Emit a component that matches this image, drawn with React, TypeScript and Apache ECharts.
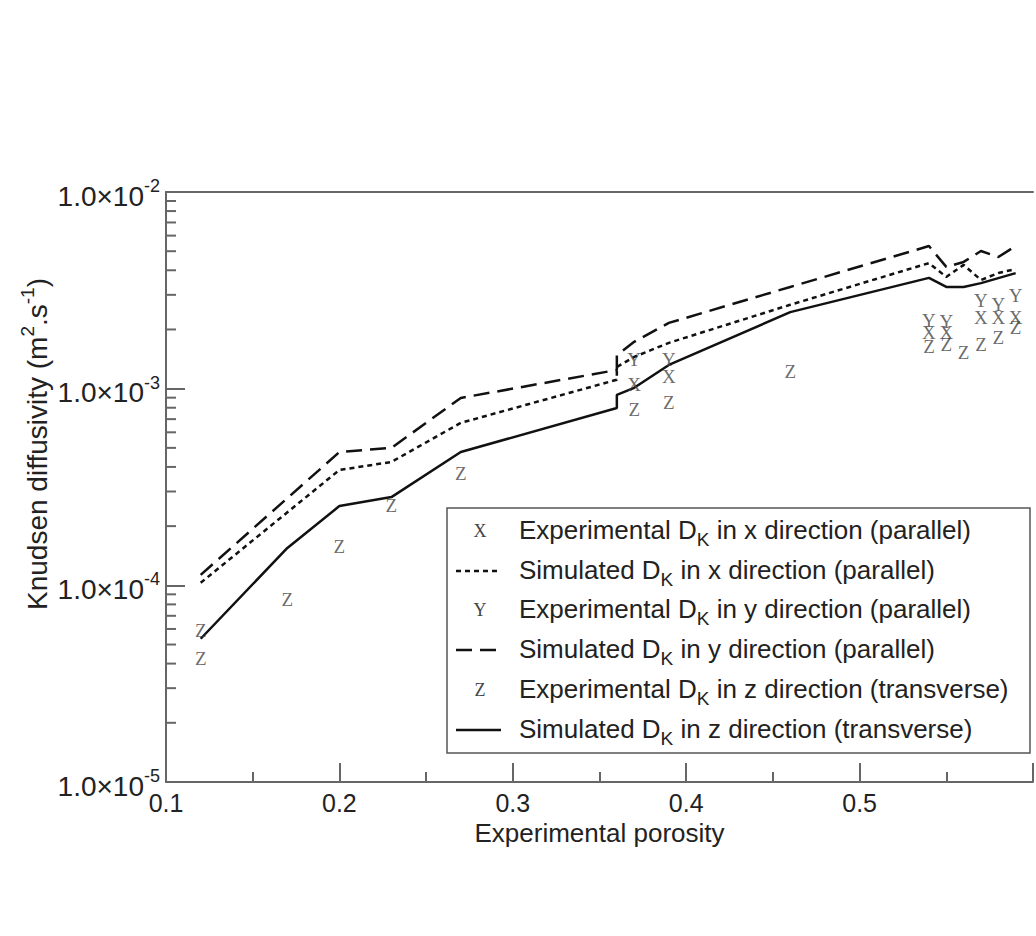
import React, { useEffect, useRef } from 'react';
import * as echarts from 'echarts';

// Simulated D_K, x direction (dotted)
const simXPorosity = [0.12, 0.2, 0.23, 0.27, 0.36, 0.36, 0.37, 0.39, 0.46, 0.54, 0.55, 0.56, 0.57, 0.58, 0.59];
const simXValues = [1.03e-4, 3.86e-4, 4.24e-4, 6.7e-4, 1.11e-3, 1.29e-3, 1.45e-3, 1.71e-3, 2.67e-3, 4.35e-3, 3.7e-3, 4.26e-3, 3.57e-3, 3.87e-3, 4.06e-3];
// Simulated D_K, y direction (dashed)
const simYPorosity = [0.12, 0.2, 0.23, 0.27, 0.36, 0.36, 0.37, 0.39, 0.46, 0.54, 0.55, 0.56, 0.57, 0.58, 0.59];
const simYValues = [1.13e-4, 4.76e-4, 5.0e-4, 8.97e-4, 1.245e-3, 1.48e-3, 1.73e-3, 2.16e-3, 3.29e-3, 5.31e-3, 4.16e-3, 4.41e-3, 5.01e-3, 4.67e-3, 5.31e-3];
// Simulated D_K, z direction (solid)
const simZPorosity = [0.12, 0.17, 0.2, 0.23, 0.27, 0.36, 0.36, 0.37, 0.39, 0.46, 0.54, 0.55, 0.56, 0.57, 0.59];
const simZValues = [5.35e-5, 1.55e-4, 2.53e-4, 2.81e-4, 4.76e-4, 7.98e-4, 9.29e-4, 1.01e-3, 1.32e-3, 2.45e-3, 3.66e-3, 3.29e-3, 3.29e-3, 3.44e-3, 3.87e-3];

// Experimental points
const expXPorosity = [0.37, 0.39, 0.54, 0.55, 0.57, 0.58, 0.59];
const expXValues = [1.045e-3, 1.15e-3, 1.92e-3, 1.94e-3, 2.29e-3, 2.31e-3, 2.29e-3];
const expYPorosity = [0.37, 0.39, 0.54, 0.55, 0.57, 0.58, 0.59];
const expYValues = [1.4e-3, 1.4e-3, 2.23e-3, 2.2e-3, 2.82e-3, 2.67e-3, 2.99e-3];
const expZPorosity = [0.12, 0.12, 0.17, 0.2, 0.23, 0.27, 0.37, 0.39, 0.46, 0.54, 0.55, 0.56, 0.57, 0.58, 0.59];
const expZValues = [5.86e-5, 4.27e-5, 8.43e-5, 1.57e-4, 2.54e-4, 3.72e-4, 7.8e-4, 8.55e-4, 1.22e-3, 1.63e-3, 1.67e-3, 1.52e-3, 1.67e-3, 1.81e-3, 2.04e-3];

// Axis ticks
const xTickLabels = ['0.1', '0.2', '0.3', '0.4', '0.5'];
const yDecades = [1e-5, 1e-4, 1e-3];
const yMinorMultipliers = [2, 3, 4, 5, 6, 7, 8, 9];

const legendLabels = [
  ['Experimental D', ' in x direction (parallel)'],
  ['Simulated D', ' in x direction (parallel)'],
  ['Experimental D', ' in y direction (parallel)'],
  ['Simulated D', ' in y direction (parallel)'],
  ['Experimental D', ' in z direction (transverse)'],
  ['Simulated D', ' in z direction (transverse)'],
];

const SANS = 'Liberation Sans, Arial, sans-serif';
const SERIF = 'Liberation Serif, Times New Roman, serif';
const AXIS = '#666';
const MARK = '#444';
const TEXT = '#222';

const zip = (a: number[], b: number[]) => a.map((v, i) => [v, b[i]]);

export default function App() {
  const ref = useRef<HTMLDivElement>(null);
  useEffect(() => {
    const chart = echarts.init(ref.current!, null, { renderer: 'svg' });
    const minorTicks = yDecades.flatMap((d) => yMinorMultipliers.map((m) => [0.1, m * d]));

    const letterSeries = (name: string, letter: string, data: number[][]) => ({
      type: 'scatter',
      name,
      data,
      symbol: 'circle',
      symbolSize: 1,
      itemStyle: { color: 'rgba(0,0,0,0)' },
      label: {
        show: true,
        position: 'inside',
        formatter: letter,
        fontFamily: SERIF,
        fontSize: 19,
        color: MARK,
      },
      labelLayout: { hideOverlap: false },
      z: 4,
    });

    const lineSeries = (name: string, data: number[][], dash: any) => ({
      type: 'line',
      name,
      data,
      symbol: 'none',
      lineStyle: { color: '#111', width: 2.5, type: dash },
      z: 3,
    });

    const rowY = [531, 571, 610, 650, 690, 730];
    const legendGraphics: any[] = [
      {
        type: 'rect',
        shape: { x: 447, y: 508, width: 583, height: 245 },
        style: { fill: '#fff', stroke: '#555', lineWidth: 1.5 },
        z: 100,
      },
    ];
    const letters = ['X', '', 'Y', '', 'Z', ''];
    const dashes: any[] = [null, [5, 4], null, [16, 8], null, null];
    rowY.forEach((y, i) => {
      if (letters[i]) {
        legendGraphics.push({
          type: 'text',
          x: 480,
          y,
          style: { text: letters[i], font: `18px ${SERIF}`, fill: MARK, align: 'center', verticalAlign: 'middle' },
          z: 101,
        });
      } else {
        legendGraphics.push({
          type: 'line',
          shape: { x1: 456, y1: y, x2: 501, y2: y },
          style: { stroke: '#111', lineWidth: 2.5, lineDash: dashes[i] || undefined },
          z: 101,
        });
      }
      legendGraphics.push({
        type: 'text',
        x: 519,
        y,
        style: {
          text: `{a|${legendLabels[i][0]}}{k|K}{a|${legendLabels[i][1]}}`,
          rich: {
            a: { fontSize: 26, fontFamily: SANS, lineHeight: 28, verticalAlign: 'top', fill: TEXT },
            k: { fontSize: 19, fontFamily: SANS, lineHeight: 19, padding: [13, 0, 0, 0], verticalAlign: 'top', fill: TEXT },
          },
          align: 'left',
          verticalAlign: 'middle',
        },
        z: 101,
      });
    });

    const option: any = {
      animation: false,
      backgroundColor: '#fff',
      grid: { left: 166, top: 192, width: 870, height: 590, containLabel: false },
      xAxis: [
        {
          type: 'value',
          min: 0.1,
          max: 0.6,
          interval: 0.1,
          name: 'Experimental porosity',
          nameLocation: 'middle',
          nameGap: 36,
          nameTextStyle: { fontFamily: SANS, fontSize: 26, color: TEXT },
          axisLine: { show: true, onZero: false, lineStyle: { color: AXIS, width: 2 } },
          axisTick: { show: true, inside: true, length: 19, lineStyle: { color: AXIS, width: 2 } },
          minorTick: { show: true, splitNumber: 2, length: 10, lineStyle: { color: AXIS, width: 2 } },
          axisLabel: {
            fontFamily: SANS,
            fontSize: 25,
            color: TEXT,
            margin: 8,
            formatter: (v: number) => {
              const s = v.toFixed(1);
              return xTickLabels.includes(s) ? s : '';
            },
          },
          splitLine: { show: false },
        },
        {
          type: 'value',
          position: 'top',
          min: 0.1,
          max: 0.6,
          interval: 0.1,
          axisLine: { show: true, onZero: false, lineStyle: { color: AXIS, width: 2 } },
          axisTick: { show: false },
          axisLabel: { show: false },
          splitLine: { show: false },
        },
      ],
      yAxis: {
        type: 'log',
        logBase: 10,
        min: 1e-5,
        max: 1e-2,
        axisLine: { show: true, onZero: false, lineStyle: { color: AXIS, width: 2 } },
        axisTick: { show: true, inside: true, length: 19, lineStyle: { color: AXIS, width: 2 } },
        axisLabel: {
          margin: 6,
          formatter: (v: number) => `{a|1.0×10}{b|${Math.round(Math.log10(v))}}`,
          rich: {
            a: { fontSize: 28, fontFamily: SANS, color: TEXT, lineHeight: 30, padding: [8, 0, 0, 0] },
            b: { fontSize: 18, fontFamily: SANS, color: TEXT, lineHeight: 18, verticalAlign: 'top' },
          },
        },
        splitLine: { show: false },
      },
      graphic: [
        {
          type: 'text',
          x: 33,
          y: 444,
          rotation: Math.PI / 2,
          style: {
            text: '{a|Knudsen diffusivity (m}{b|2}{a|.s}{b|-1}{a|)}',
            rich: {
              a: { fontSize: 28, fontFamily: SANS, fill: TEXT, lineHeight: 30, padding: [8, 0, 0, 0] },
              b: { fontSize: 19, fontFamily: SANS, fill: TEXT, lineHeight: 19, verticalAlign: 'top' },
            },
            align: 'center',
            verticalAlign: 'middle',
          },
        },
        ...legendGraphics,
      ],
      series: [
        lineSeries('Simulated x', zip(simXPorosity, simXValues), [5, 4]),
        lineSeries('Simulated y', zip(simYPorosity, simYValues), [16, 8]),
        lineSeries('Simulated z', zip(simZPorosity, simZValues), 'solid'),
        letterSeries('Experimental x', 'X', zip(expXPorosity, expXValues)),
        letterSeries('Experimental y', 'Y', zip(expYPorosity, expYValues)),
        letterSeries('Experimental z', 'Z', zip(expZPorosity, expZValues)),
        {
          type: 'custom',
          name: 'minor ticks',
          coordinateSystem: 'cartesian2d',
          silent: true,
          clip: false,
          data: minorTicks,
          renderItem: (_p: any, api: any) => {
            const pt = api.coord([api.value(0), api.value(1)]);
            return {
              type: 'line',
              shape: { x1: pt[0], y1: pt[1], x2: pt[0] + 10, y2: pt[1] },
              style: { stroke: AXIS, lineWidth: 2 },
            };
          },
          z: 5,
        },
      ],
    };
    chart.setOption(option);
    return () => chart.dispose();
  }, []);
  return (
    <div
      ref={ref}
      style={{ position: 'absolute', left: 0, top: 0, width: 1036, height: 936, background: '#fff' }}
    />
  );
}
